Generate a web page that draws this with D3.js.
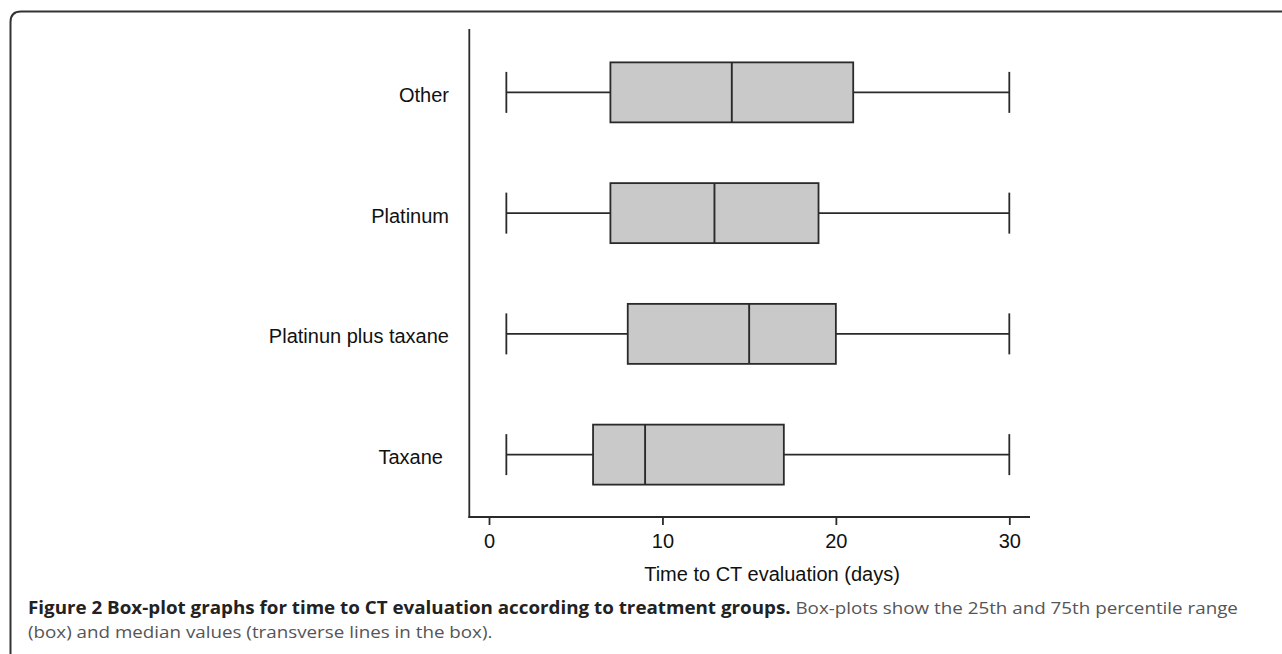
<!DOCTYPE html>
<html><head><meta charset="utf-8">
<script src="https://cdn.jsdelivr.net/npm/d3@7"></script>
<style>
html,body{margin:0;padding:0;background:#fff;}
svg{display:block;}
</style></head>
<body>
<svg id="chart" width="1282" height="654"></svg>
<script>
const categories = ["Other", "Platinum", "Platinun plus taxane", "Taxane"];
const whiskerLow  = [1, 1, 1, 1];
const q1          = [7, 7, 8, 6];
const median      = [14, 13, 15, 9];
const q3          = [21, 19, 20, 17];
const whiskerHigh = [30, 30, 30, 30];
const xTicks = [0, 10, 20, 30];
const xTitle = "Time to CT evaluation (days)";
const captionBold = "Figure 2 Box-plot graphs for time to CT evaluation according to treatment groups.";
const captionRest1 = " Box-plots show the 25th and 75th percentile range";
const captionLine2 = "(box) and median values (transverse lines in the box).";

const svg = d3.select("#chart");
const ink = "#2a2a2a";
const sans = "'Liberation Sans', Arial, Helvetica, sans-serif";

// frame
svg.append("path")
  .attr("d", "M10.5,654 L10.5,22 Q10.5,11.5 21,11.5 L1282,11.5")
  .attr("fill", "none").attr("stroke", "#333").attr("stroke-width", 2);

const x = d3.scaleLinear().domain([0, 30]).range([489, 1009.3]);
const y = d3.scaleBand().domain(categories).range([32, 515]);

const data = categories.map((c, i) => ({c, lo: whiskerLow[i], q1: q1[i], med: median[i], q3: q3[i], hi: whiskerHigh[i]}));

// y axis line
svg.append("line").attr("x1", 469.3).attr("x2", 469.3).attr("y1", 29).attr("y2", 518)
  .attr("stroke", ink).attr("stroke-width", 1.8);
// x axis
const xAxis = svg.append("g").attr("transform", "translate(0,517)")
  .call(d3.axisBottom(x).tickValues(xTicks).tickSize(8).tickPadding(3).tickFormat(d3.format("d")));
xAxis.select(".domain").remove();
svg.append("line").attr("x1", 468.4).attr("x2", 1030).attr("y1", 517).attr("y2", 517)
  .attr("stroke", ink).attr("stroke-width", 1.8);
xAxis.selectAll(".tick line").attr("stroke", ink).attr("stroke-width", 1.8);
xAxis.selectAll(".tick text").attr("fill", "#111").attr("dy", null).attr("y", 31)
  .style("font-family", sans).style("font-size", "20px");

svg.append("text").attr("x", 772).attr("y", 581).attr("text-anchor", "middle")
  .style("font-family", sans).style("font-size", "20px").attr("fill", "#111").text(xTitle);

// category labels
svg.selectAll(".cat").data(data).enter().append("text")
  .attr("class", "cat")
  .attr("x", d => d.c === "Taxane" ? 443 : 449)
  .attr("y", d => y(d.c) + y.bandwidth() / 2 + 9.4)
  .attr("text-anchor", "end")
  .style("font-family", sans).style("font-size", "20px").attr("fill", "#111")
  .text(d => d.c);

const boxH = 60, capH = 41;
const g = svg.selectAll(".bx").data(data).enter().append("g").attr("class", "bx")
  .attr("transform", d => `translate(0,${y(d.c) + y.bandwidth() / 2})`);
g.append("line").attr("x1", d => x(d.lo)).attr("x2", d => x(d.q1)).attr("y1", 0).attr("y2", 0)
  .attr("stroke", ink).attr("stroke-width", 1.7);
g.append("line").attr("x1", d => x(d.q3)).attr("x2", d => x(d.hi)).attr("y1", 0).attr("y2", 0)
  .attr("stroke", ink).attr("stroke-width", 1.7);
g.append("line").attr("x1", d => x(d.lo)).attr("x2", d => x(d.lo)).attr("y1", -capH / 2).attr("y2", capH / 2)
  .attr("stroke", ink).attr("stroke-width", 1.8);
g.append("line").attr("x1", d => x(d.hi)).attr("x2", d => x(d.hi)).attr("y1", -capH / 2).attr("y2", capH / 2)
  .attr("stroke", ink).attr("stroke-width", 1.8);
g.append("rect").attr("x", d => x(d.q1)).attr("width", d => x(d.q3) - x(d.q1))
  .attr("y", -boxH / 2).attr("height", boxH)
  .attr("fill", "#c9c9c9").attr("stroke", ink).attr("stroke-width", 1.8);
g.append("line").attr("x1", d => x(d.med)).attr("x2", d => x(d.med)).attr("y1", -boxH / 2).attr("y2", boxH / 2)
  .attr("stroke", ink).attr("stroke-width", 1.9);

// caption (condensed horizontally to fit the reference's line width)
const capFont = "'Open Sans', 'Noto Sans', sans-serif";
const capSize = 17;
const t1 = svg.append("text").attr("x", 0).attr("y", 0).style("font-family", capFont).style("font-size", capSize + "px").attr("fill", "#555");
t1.append("tspan").style("font-weight", "bold").attr("fill", "#222").text(captionBold);
t1.append("tspan").text(captionRest1);
const w = t1.node().getComputedTextLength();
const sx = 1211 / w;
t1.attr("transform", `translate(28,614) scale(${sx},1)`);
svg.append("text").attr("transform", `translate(28,638) scale(${sx},1)`)
  .style("font-family", capFont).style("font-size", capSize + "px")
  .attr("fill", "#555").text(captionLine2);
</script>
</body></html>
